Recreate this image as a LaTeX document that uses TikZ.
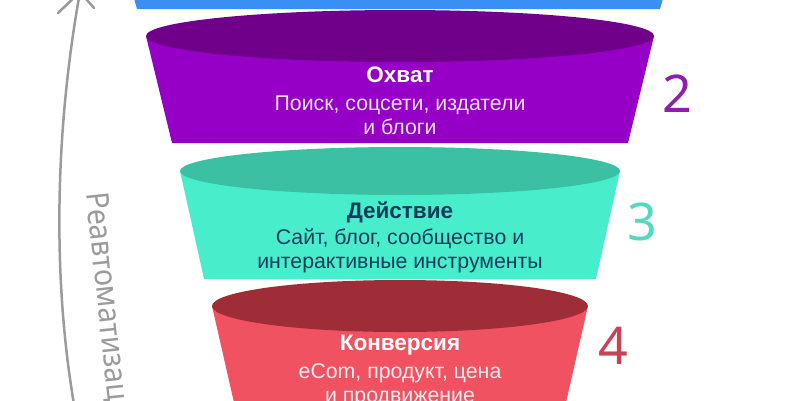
\documentclass[tikz,border=0pt]{standalone}
\usepackage{fontspec}
\setmainfont{Liberation Sans}
\newfontfamily\handfont{Noto Sans}
\definecolor{blueC}{RGB}{58,143,245}
\definecolor{purTop}{RGB}{112,0,138}
\definecolor{purBody}{RGB}{150,0,198}
\definecolor{tealTop}{RGB}{60,192,163}
\definecolor{tealBody}{RGB}{72,238,204}
\definecolor{redTop}{RGB}{158,45,56}
\definecolor{redBody}{RGB}{240,82,98}
\definecolor{purText}{RGB}{245,222,250}
\definecolor{tealText}{RGB}{12,60,92}
\definecolor{redText}{RGB}{255,236,238}
\definecolor{arrowGray}{RGB}{155,155,155}
\definecolor{numTwo}{RGB}{145,30,170}
\definecolor{numThree}{RGB}{80,218,192}
\definecolor{numFour}{RGB}{200,65,85}
\tikzset{
  stagetitle/.style={font=\fontsize{22.5}{26}\selectfont\bfseries, inner sep=0pt},
  stagebody/.style={font=\fontsize{21.3}{24}\selectfont, align=center, inner sep=0pt},
  stagenum/.style={font=\handfont\fontsize{52}{56}\selectfont, inner sep=0pt},
}
\begin{document}
\begin{tikzpicture}[x=1pt,y=-1pt]
\useasboundingbox (0,0) rectangle (800,400);
\clip (0,0) rectangle (800,400);
\fill[white] (0,0) rectangle (800,400);
% blue stage (bottom part only)
\fill[blueC] (133,-5) -- (137,9) -- (660,9) -- (664,-5) -- cycle;
% purple stage
\fill[purBody] (146,36) -- (172,143) -- (628,143) -- (654,36) -- cycle;
\fill[purTop] (400,36) ellipse [x radius=254pt, y radius=26pt];
% teal stage
\fill[tealBody] (180,171) -- (204,279) -- (596,279) -- (620,171) -- cycle;
\fill[tealTop] (400,171) ellipse [x radius=220pt, y radius=24pt];
% red stage
\fill[redBody] (212,306) -- (238,420) -- (562,420) -- (588,306) -- cycle;
\fill[redTop] (400,306) ellipse [x radius=188pt, y radius=26pt];
% texts
\node[stagetitle, text=white] (t2) at (400,75) {Охват};
\node[stagebody, text=purText] (b2) at (400,115) {Поиск, соцсети, издатели\\и блоги};
\node[stagetitle, text=tealText] (t3) at (400,212) {Действие};
\node[stagebody, text=tealText] (b3) at (400,251) {Сайт, блог, сообщество и\\интерактивные инструменты};
\node[stagetitle, text=white] (t4) at (400,345) {Конверсия};
\node[stagebody, text=redText] (b4) at (400,385) {eCom, продукт, цена\\и продвижение};
% numbers
\node[stagenum, text=numTwo] (n2) at (677,94) {2};
\node[stagenum, text=numThree] (n3) at (642,222) {3};
\node[stagenum, text=numFour] (n4) at (613,346) {4};
% arrow
\coordinate (abot) at (75,410);
\coordinate (atip) at (80,-8);
\draw[arrowGray, line width=2.5pt, line cap=round] (abot) .. controls (52,280) and (55,130) .. (atip);
\draw[arrowGray, line width=2.5pt, line cap=round] (atip) -- (58,13);
\draw[arrowGray, line width=2.5pt, line cap=round] (atip) -- (94,8);
\node[text=arrowGray, rotate=-84, inner sep=0pt, anchor=west, font=\handfont\fontsize{31}{32}\selectfont] (rl) at (95,192) {\scalebox{0.92}[1]{Реавтоматизация}};
\end{tikzpicture}
\end{document}
